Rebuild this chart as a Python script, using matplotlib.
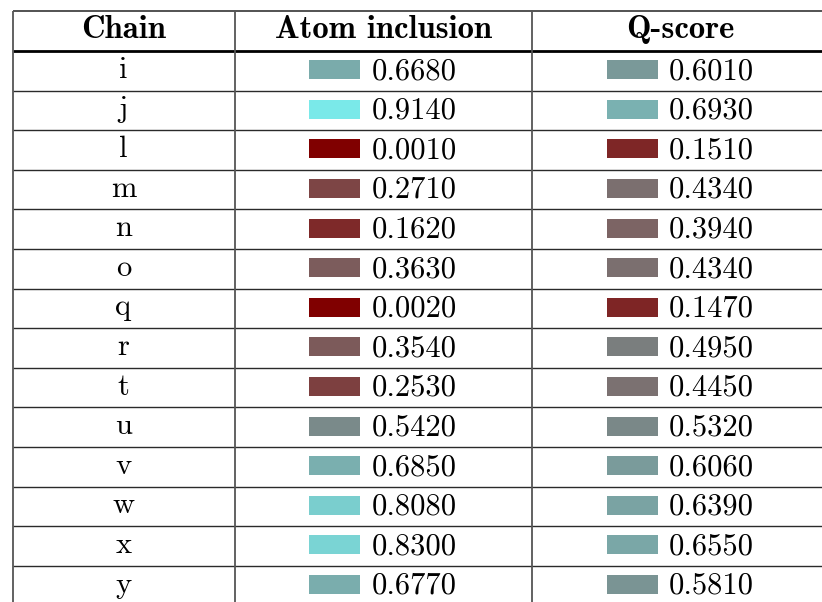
import matplotlib
matplotlib.use("Agg")
import matplotlib.pyplot as plt
from matplotlib.colors import LinearSegmentedColormap
from matplotlib.patches import Rectangle

headers = ["Chain", "Atom inclusion", "Q-score"]
chains = ["i", "j", "l", "m", "n", "o", "q", "r", "t", "u", "v", "w", "x", "y"]
atom_inclusion = [0.668, 0.914, 0.001, 0.271, 0.162, 0.363, 0.002, 0.354, 0.253, 0.542, 0.685, 0.808, 0.830, 0.677]
q_score = [0.601, 0.693, 0.151, 0.434, 0.394, 0.434, 0.147, 0.495, 0.445, 0.532, 0.606, 0.639, 0.655, 0.581]

cmap = LinearSegmentedColormap.from_list("mc", [(0.5, 0.0, 0.0), (0.48, 0.5, 0.5), (0.48, 1.0, 1.0)])

W, H = 822, 602
fig = plt.figure(figsize=(W / 100, H / 100), dpi=100)
ax = fig.add_axes([0, 0, 1, 1])
ax.set_xlim(0, W)
ax.set_ylim(H, 0)
ax.axis("off")

# layout
x_left, x_c1, x_c2, x_right = 12.5, 234.5, 532.0, 829.0
y_top, y_head = 11.0, 51.0
row_h = 39.6
line_c = "#2a2a2a"
fs = 22

col_centers = [(x_left + x_c1) / 2, (x_c1 + x_c2) / 2, (x_c2 + x_right) / 2]

# header
for cx, h in zip(col_centers, headers):
    ax.text(cx, (y_top + y_head) / 2 + 7.5, h, fontfamily="cmb10", fontsize=23.5,
            ha="center", va="baseline", color="black")

n = len(chains)
y_bottom = y_head + row_h * n

# lines
ax.plot([x_left, W + 10], [y_top, y_top], color="#444444", lw=1.3, solid_capstyle="butt")
ax.plot([x_left, W + 10], [y_head, y_head], color="black", lw=2.0, solid_capstyle="butt")
for k in range(1, n + 1):
    y = y_head + row_h * k
    ax.plot([x_left, W + 10], [y, y], color=line_c, lw=1.0, solid_capstyle="butt")
for x in [x_left, x_c1, x_c2]:
    ax.plot([x, x], [y_top, y_bottom], color="#555555", lw=1.3, solid_capstyle="butt")

for i, ch in enumerate(chains):
    yc = y_head + row_h * (i + 0.5)
    base = yc + 8.3
    ax.text(col_centers[0], base - 1.3, ch, fontfamily="cmr10", fontsize=fs,
            ha="center", va="baseline", color="black")
    for cx, vals, off in [(col_centers[1], atom_inclusion, 74), (col_centers[2], q_score, 73.5)]:
        v = vals[i]
        ax.add_patch(Rectangle((cx - off, base - 19), 51, 19, facecolor=cmap(v),
                               edgecolor="none"))
        ax.text(cx - off + 62, base, f"{v:.4f}", fontfamily="cmr10", fontsize=fs,
                ha="left", va="baseline", color="black")

fig.savefig("out.png", dpi=100, facecolor="white")
